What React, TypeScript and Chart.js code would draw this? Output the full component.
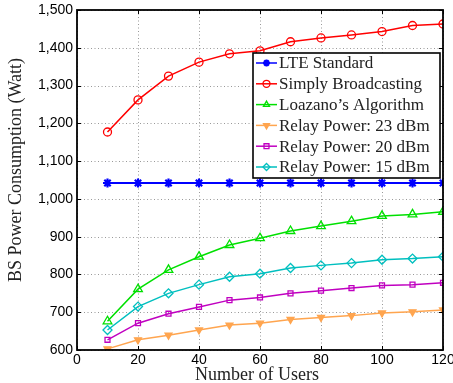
import React, { useEffect, useRef } from "react";
import { Chart, registerables } from "chart.js";
import { drawPoint } from "chart.js/helpers";

Chart.register(...registerables);

const users = [10, 20, 30, 40, 50, 60, 70, 80, 90, 100, 110, 120];
const lteStandard = [1042, 1042, 1042, 1042, 1042, 1042, 1042, 1042, 1042, 1042, 1042, 1042];
const simplyBroadcasting = [1177, 1262, 1325, 1362, 1384, 1392, 1416, 1426, 1434, 1443, 1459, 1463];
const loazano = [676, 761, 812, 847, 878, 896, 915, 928, 941, 955, 959, 966];
const relay23 = [603, 627, 639, 653, 666, 671, 681, 686, 691, 698, 701, 706];
const relay20 = [627, 671, 696, 714, 732, 739, 750, 757, 764, 771, 773, 778];
const relay15 = [653, 715, 750, 773, 794, 802, 817, 824, 830, 839, 842, 847];

const seriesNames = [
  "LTE Standard",
  "Simply Broadcasting",
  "Loazano\u2019s Algorithm",
  "Relay Power: 23 dBm",
  "Relay Power: 20 dBm",
  "Relay Power: 15 dBm",
];
const xTitle = "Number of Users";
const yTitle = "BS Power Consumption (Watt)";

const SERIF = "'Liberation Serif', 'DejaVu Serif', serif";
const SANS = "'Liberation Sans', Arial, sans-serif";

export default function App() {
  const ref = useRef<HTMLCanvasElement>(null);
  useEffect(() => {
    if (!ref.current) return;
    const mk = (label: string, data: number[], color: string, style: any, extra: any = {}) => ({
      label,
      data: users.map((u, i) => ({ x: u, y: data[i] })),
      borderColor: color,
      backgroundColor: "rgba(0,0,0,0)",
      pointBorderColor: color,
      pointBackgroundColor: "rgba(0,0,0,0)",
      pointStyle: style,
      pointRadius: 4,
      pointBorderWidth: 1.3,
      borderWidth: 1.5,
      ...extra,
    });
    const datasets: any[] = [
      mk(seriesNames[0], lteStandard, "#0000ff", "star", { pointRadius: 4.5, pointBorderWidth: 2.2, borderWidth: 2 }),
      mk(seriesNames[1], simplyBroadcasting, "#ff0000", "circle"),
      mk(seriesNames[2], loazano, "#00e000", "triangle", { pointRadius: 5 }),
      mk(seriesNames[3], relay23, "#ffa54f", "triangle", { pointRotation: 180, pointBackgroundColor: "#ffa54f" }),
      mk(seriesNames[4], relay20, "#c000c0", "rect", { pointRadius: 3.5 }),
      mk(seriesNames[5], relay15, "#00bfbf", "rectRot", { pointRadius: 4.5 }),
    ];

    const gridPlugin = {
      id: "gridPlugin",
      beforeDatasetsDraw(chart: any) {
        const { ctx, chartArea: a, scales } = chart;
        ctx.save();
        ctx.strokeStyle = "#999";
        ctx.lineWidth = 1;
        ctx.setLineDash([1, 2.5]);
        ctx.beginPath();
        scales.x.ticks.forEach((t: any) => {
          const px = Math.round(scales.x.getPixelForValue(t.value)) + 0.5;
          ctx.moveTo(px, a.top);
          ctx.lineTo(px, a.bottom);
        });
        scales.y.ticks.forEach((t: any) => {
          const py = Math.round(scales.y.getPixelForValue(t.value)) + 0.5;
          ctx.moveTo(a.left, py);
          ctx.lineTo(a.right, py);
        });
        ctx.stroke();
        ctx.restore();
      },
    };

    const boxPlugin = {
      id: "boxPlugin",
      afterDraw(chart: any) {
        const { ctx, chartArea: a, scales } = chart;
        ctx.save();
        ctx.strokeStyle = "#000";
        ctx.lineWidth = 1;
        ctx.beginPath();
        scales.x.ticks.forEach((t: any) => {
          const px = Math.round(scales.x.getPixelForValue(t.value)) + 0.5;
          ctx.moveTo(px, a.bottom);
          ctx.lineTo(px, a.bottom - 4);
          ctx.moveTo(px, a.top);
          ctx.lineTo(px, a.top + 4);
        });
        scales.y.ticks.forEach((t: any) => {
          const py = Math.round(scales.y.getPixelForValue(t.value)) + 0.5;
          ctx.moveTo(a.left, py);
          ctx.lineTo(a.left + 4, py);
          ctx.moveTo(a.right, py);
          ctx.lineTo(a.right - 4, py);
        });
        ctx.stroke();
        ctx.lineWidth = 1.8;
        ctx.strokeRect(a.left, a.top, a.right - a.left, a.bottom - a.top);

        ctx.fillStyle = "#222";
        ctx.font = `18px ${SERIF}`;
        ctx.textAlign = "center";
        ctx.textBaseline = "alphabetic";
        ctx.fillText(xTitle, (a.left + a.right) / 2 - 3, 380);
        ctx.textBaseline = "middle";
        ctx.translate(16, 170);
        ctx.rotate(-Math.PI / 2);
        ctx.fillText(yTitle, 0, 0);
        ctx.restore();

        ctx.save();
        const lx = 253, ly = 53, lw = 187, lh = 125, rowH = 20.8;
        ctx.fillStyle = "#fff";
        ctx.fillRect(lx, ly, lw, lh);
        ctx.lineWidth = 1.6;
        ctx.strokeStyle = "#000";
        ctx.strokeRect(lx, ly, lw, lh);
        ctx.font = `17px ${SERIF}`;
        ctx.textAlign = "left";
        ctx.textBaseline = "middle";
        chart.data.datasets.forEach((ds: any, i: number) => {
          const cy = ly + 10 + i * rowH;
          ctx.strokeStyle = ds.borderColor;
          ctx.lineWidth = 1.5;
          ctx.beginPath();
          ctx.moveTo(lx + 3, cy);
          ctx.lineTo(lx + 24, cy);
          ctx.stroke();
          const opts = {
            pointStyle: ds.pointStyle,
            rotation: ds.pointRotation || 0,
            radius: Math.min(ds.pointRadius, 3.5),
            borderWidth: ds.pointBorderWidth,
          };
          ctx.fillStyle = ds.pointBackgroundColor;
          ctx.strokeStyle = ds.pointBorderColor;
          ctx.lineWidth = ds.pointBorderWidth;
          drawPoint(ctx, opts as any, lx + 13.5, cy);
          ctx.fillStyle = "#222";
          ctx.fillText(ds.label, lx + 26, cy + 1);
        });
        ctx.restore();
      },
    };

    const chart = new Chart(ref.current, {
      type: "line",
      data: { datasets },
      options: {
        animation: false,
        responsive: true,
        maintainAspectRatio: false,
        layout: { padding: { top: 10, right: 10, left: 0, bottom: 0 } },
        plugins: { legend: { display: false }, tooltip: { enabled: false } },
        scales: {
          x: {
            type: "linear",
            min: 0,
            max: 120,
            ticks: { stepSize: 20, color: "#000", font: { family: SANS, size: 14 }, padding: 2, maxRotation: 0 },
            grid: { display: false, drawTicks: false },
            border: { display: false },
            afterFit: (s: any) => {
              s.height = 33;
              s.paddingLeft = 0;
              s.paddingRight = 0;
            },
          },
          y: {
            min: 600,
            max: 1500,
            ticks: {
              stepSize: 100,
              color: "#000",
              font: { family: SANS, size: 14 },
              padding: 4,
              callback: (v: any) => Number(v).toLocaleString("en-US"),
            },
            grid: { display: false, drawTicks: false },
            border: { display: false },
            afterFit: (s: any) => {
              s.width = 77;
              s.paddingTop = 0;
              s.paddingBottom = 0;
            },
          },
        },
      },
      plugins: [gridPlugin, boxPlugin],
    } as any);
    return () => chart.destroy();
  }, []);
  return (
    <div style={{ position: "fixed", left: 0, top: 0, width: 453, height: 383, background: "#fff" }}>
      <canvas ref={ref} />
    </div>
  );
}
